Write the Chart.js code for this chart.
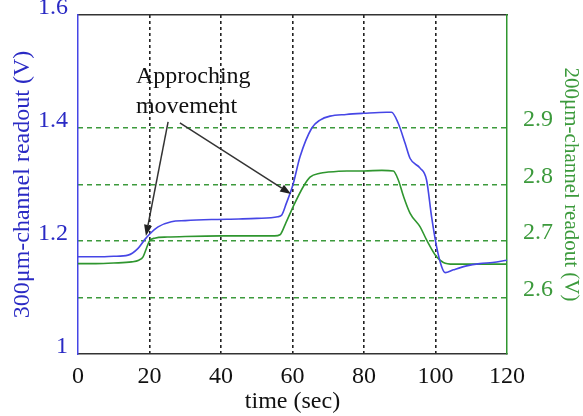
<!DOCTYPE html>
<html><head><meta charset="utf-8">
<script src="https://cdn.jsdelivr.net/npm/chart.js@4"></script>
<style>html,body{margin:0;padding:0;background:#fff}#wrap{width:583px;height:416px;position:relative}</style>
</head><body><div id="wrap"><canvas id="c"></canvas></div>
<script>
// ---- data ----
const timeBlue = [0, 5, 10, 14, 16.8, 18.6, 20, 22.4, 26.1, 30, 37.3, 45, 50, 55.9, 57, 58.3, 60.1, 62.1, 65.4, 67.7, 70.5, 75, 79.8, 86.3, 87.7, 89.6, 91.5, 92.9, 95.7, 97.5, 98.9, 100.3, 101.7, 102.7, 105, 108.7, 112.4, 116, 120];
const blueReadout = [1.172, 1.172, 1.173, 1.175, 1.187, 1.202, 1.212, 1.225, 1.234, 1.236, 1.238, 1.239, 1.240, 1.243, 1.246, 1.267, 1.299, 1.349, 1.400, 1.414, 1.421, 1.424, 1.426, 1.428, 1.428, 1.408, 1.373, 1.346, 1.329, 1.308, 1.243, 1.190, 1.155, 1.144, 1.149, 1.156, 1.160, 1.162, 1.166];
const timeGreen = [0, 5, 10, 15, 17, 18.2, 19.2, 20, 21.4, 25, 30, 40, 50, 55, 56.5, 58, 60.2, 63, 64.9, 67.7, 70, 75.2, 80, 85, 88.2, 89.6, 91, 92.9, 95.7, 97.5, 100.3, 102.2, 105, 110, 115, 120];
const greenReadout = [2.660, 2.660, 2.661, 2.663, 2.666, 2.672, 2.688, 2.700, 2.705, 2.707, 2.708, 2.709, 2.709, 2.709, 2.711, 2.730, 2.761, 2.796, 2.813, 2.820, 2.822, 2.824, 2.824, 2.825, 2.824, 2.808, 2.780, 2.749, 2.725, 2.702, 2.672, 2.662, 2.659, 2.659, 2.659, 2.659];
const xTicks = [0, 20, 40, 60, 80, 100, 120];
const leftTicks = [1, 1.2, 1.4, 1.6];
const rightTicks = [2.6, 2.7, 2.8, 2.9];
const annotationLines = ['Approching', 'movement'];
const annotationAnchor = [16.2, 1.490];      // (time, left-axis value) of first text line
const arrowTails = [[25.2, 1.411], [28.5, 1.409]];
const arrowHeads = [[19.0, 1.209], [59.6, 1.283]];

const SERIF = '"Liberation Serif", "Times New Roman", serif';
const BLUE_LINE = '#4646e6', BLUE_TEXT = '#2a2ac4';
const GREEN_LINE = '#2f962f', GREEN_TEXT = '#3c9a3c';

const annotationPlugin = {
  id: 'annot',
  afterDatasetsDraw(chart) {
    const {ctx, scales: {x, y}} = chart;
    ctx.save();
    ctx.fillStyle = '#111';
    ctx.font = '24px ' + SERIF;
    ctx.textAlign = 'left';
    ctx.textBaseline = 'middle';
    const ax = x.getPixelForValue(annotationAnchor[0]);
    const ay = y.getPixelForValue(annotationAnchor[1]);
    annotationLines.forEach((t, i) => ctx.fillText(t, ax, ay + i * 30));
    ctx.strokeStyle = '#333';
    ctx.fillStyle = '#222';
    ctx.lineWidth = 1.5;
    arrowTails.forEach((tail, i) => {
      const x1 = x.getPixelForValue(tail[0]), y1 = y.getPixelForValue(tail[1]);
      const x2 = x.getPixelForValue(arrowHeads[i][0]), y2 = y.getPixelForValue(arrowHeads[i][1]);
      const ang = Math.atan2(y2 - y1, x2 - x1);
      const L = 11, W = 4;
      const bx = x2 - L * Math.cos(ang), by = y2 - L * Math.sin(ang);
      ctx.beginPath(); ctx.moveTo(x1, y1); ctx.lineTo(bx, by); ctx.stroke();
      ctx.beginPath();
      ctx.moveTo(x2, y2);
      ctx.lineTo(bx + W * Math.sin(ang), by - W * Math.cos(ang));
      ctx.lineTo(bx - W * Math.sin(ang), by + W * Math.cos(ang));
      ctx.closePath(); ctx.fill();
    });
    ctx.restore();
  }
};

const noPad = s => { s.paddingTop = 0; s.paddingBottom = 0; s.paddingLeft = 0; s.paddingRight = 0; };

new Chart(document.getElementById('c'), {
  type: 'line',
  data: {
    datasets: [
      {
        label: '300μm-channel',
        data: timeBlue.map((t, i) => ({x: t, y: blueReadout[i]})),
        yAxisID: 'y', xAxisID: 'x',
        borderColor: BLUE_LINE, borderWidth: 1.6, pointRadius: 0,
        cubicInterpolationMode: 'monotone', fill: false
      },
      {
        label: '200μm-channel',
        data: timeGreen.map((t, i) => ({x: t, y: greenReadout[i]})),
        yAxisID: 'y2', xAxisID: 'x',
        borderColor: GREEN_LINE, borderWidth: 1.6, pointRadius: 0,
        cubicInterpolationMode: 'monotone', fill: false
      }
    ]
  },
  options: {
    responsive: true, maintainAspectRatio: false, animation: false,
    layout: {padding: 0},
    plugins: {legend: {display: false}, tooltip: {enabled: false}},
    scales: {
      x: {
        type: 'linear', position: 'bottom', min: 0, max: 120,
        afterBuildTicks: s => { s.ticks = xTicks.map(v => ({value: v})); },
        afterFit: s => { s.height = 62; noPad(s); },
        ticks: {color: '#111', font: {family: SERIF, size: 24}, padding: 8, maxRotation: 0},
        grid: {
          color: c => (c.tick && (c.tick.value === 0 || c.tick.value === 120)) ? 'rgba(0,0,0,0)' : '#222',
          lineWidth: 1.6, drawTicks: false
        },
        border: {display: true, color: '#333', width: 1.5, dash: [3, 3]},
        title: {display: true, text: 'time (sec)', color: '#111', font: {family: SERIF, size: 24}, padding: {top: 0, bottom: 0}}
      },
      xTop: {
        type: 'linear', position: 'top', min: 0, max: 120,
        afterFit: s => { s.height = 15; noPad(s); },
        ticks: {display: false},
        grid: {display: false, drawTicks: false},
        border: {display: true, color: '#333', width: 1.5}
      },
      y: {
        type: 'linear', position: 'left', min: 1, max: 1.6,
        afterBuildTicks: s => { s.ticks = leftTicks.map(v => ({value: v})); },
        afterFit: s => { s.width = 78; noPad(s); },
        ticks: {color: BLUE_TEXT, font: {family: SERIF, size: 24}, padding: 10, labelOffset: -7,
                callback: v => String(Math.round(v * 10) / 10)},
        grid: {drawOnChartArea: false, drawTicks: false},
        border: {display: true, color: BLUE_LINE, width: 1.5},
        title: {display: true, text: '300μm-channel readout (V)', color: BLUE_TEXT, font: {family: SERIF, size: 24}, padding: {top: 8, bottom: 0}}
      },
      y2: {
        type: 'linear', position: 'right', min: 2.5, max: 3.1,
        afterBuildTicks: s => { s.ticks = rightTicks.map(v => ({value: v})); },
        afterFit: s => { s.width = 76; noPad(s); },
        ticks: {color: GREEN_TEXT, font: {family: SERIF, size: 24}, padding: 16, labelOffset: -8,
                callback: v => (Math.round(v * 10) / 10).toFixed(1)},
        grid: {color: GREEN_TEXT, lineWidth: 1.6, drawTicks: false},
        border: {display: true, color: GREEN_LINE, width: 1.5, dash: [5, 4]},
        title: {display: true, text: '200μm-channel readout (V)', color: GREEN_TEXT, font: {family: SERIF, size: 21}, padding: {top: 0, bottom: 0}}
      }
    }
  },
  plugins: [annotationPlugin]
});
</script>
</body></html>
